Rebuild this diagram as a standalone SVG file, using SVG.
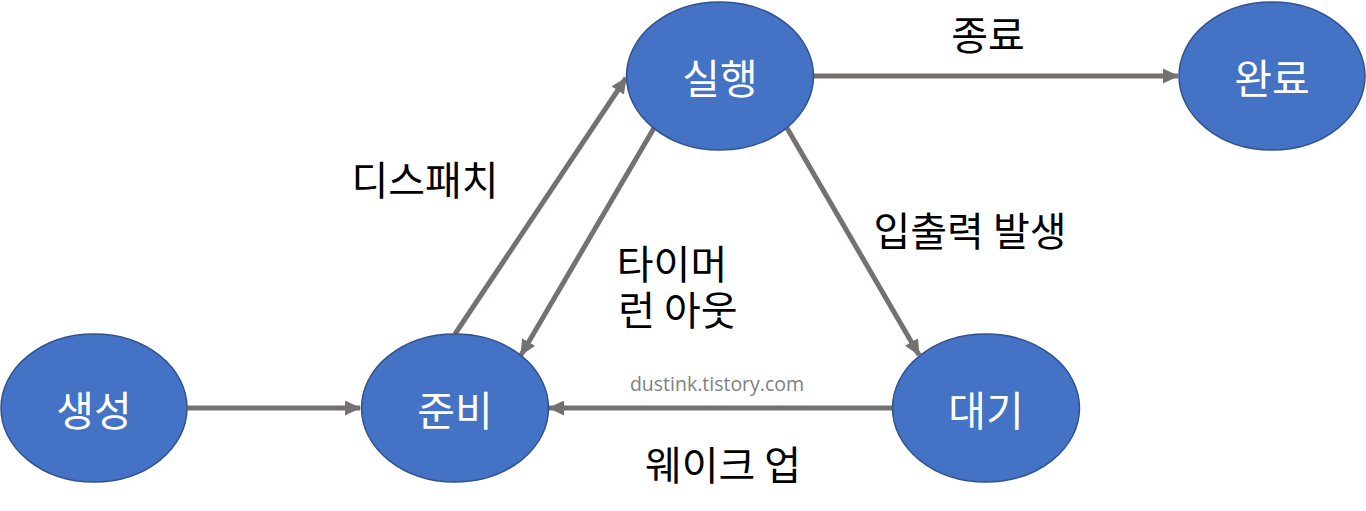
<svg xmlns="http://www.w3.org/2000/svg" width="1366" height="511" viewBox="0 0 1366 511">
<style>
.node{fill:#4472C4;stroke:#2F528F;stroke-width:1.5}
.nl{fill:#fff;font-family:"Noto Sans CJK KR","Noto Sans",sans-serif;font-size:41px;text-anchor:middle;dominant-baseline:central}
.el{fill:#000;font-family:"Noto Sans CJK KR","Noto Sans",sans-serif;font-size:40px;text-anchor:middle;dominant-baseline:central}
.c{stroke:#767171;stroke-width:5;fill:none;marker-end:url(#ah)}
.wm{fill:#7f7f7f;font-family:"Open Sans","Noto Sans",sans-serif;font-size:19.5px;text-anchor:middle;dominant-baseline:central}
</style>
<defs>
<marker id="ah" viewBox="0 0 16 15" refX="15" refY="7.5" markerWidth="16" markerHeight="15" markerUnits="userSpaceOnUse" orient="auto">
<path d="M0,0 L16,7.5 L0,15 Z" fill="#767171"/>
</marker>
</defs>
<rect width="1366" height="511" fill="#fff"/>
<g id="connectors">
<line class="c" x1="187" y1="408" x2="360" y2="408"/>
<line class="c" x1="455" y1="334" x2="626" y2="78"/>
<line class="c" x1="654" y1="128" x2="521" y2="355"/>
<line class="c" x1="787" y1="128" x2="919" y2="355"/>
<line class="c" x1="814" y1="76" x2="1178" y2="76"/>
<line class="c" x1="893" y1="408" x2="549" y2="408"/>
</g>
<g id="labels">
<text class="el" x="988" y="33">종료</text>
<text class="el" x="425" y="178">디스패치</text>
<text class="el" x="970" y="229">입출력 발생</text>
<text class="el"><tspan x="672" y="262">타이머</tspan><tspan x="678" y="308">런 아웃</tspan></text>
<text class="el" x="723" y="463">웨이크 업</text>
<text class="wm" x="717" y="383">dustink.tistory.com</text>
</g>
<g id="n-create"><ellipse class="node" cx="94" cy="408" rx="93" ry="74"/><text class="nl" x="94" y="408">생성</text></g>
<g id="n-ready"><ellipse class="node" cx="455" cy="408" rx="93.5" ry="74"/><text class="nl" x="455" y="408">준비</text></g>
<g id="n-run"><ellipse class="node" cx="720" cy="76" rx="93.5" ry="74"/><text class="nl" x="720" y="76">실행</text></g>
<g id="n-done"><ellipse class="node" cx="1272" cy="76" rx="93" ry="74"/><text class="nl" x="1272" y="76">완료</text></g>
<g id="n-wait"><ellipse class="node" cx="986" cy="408" rx="93.5" ry="74"/><text class="nl" x="986" y="408">대기</text></g>
</svg>
